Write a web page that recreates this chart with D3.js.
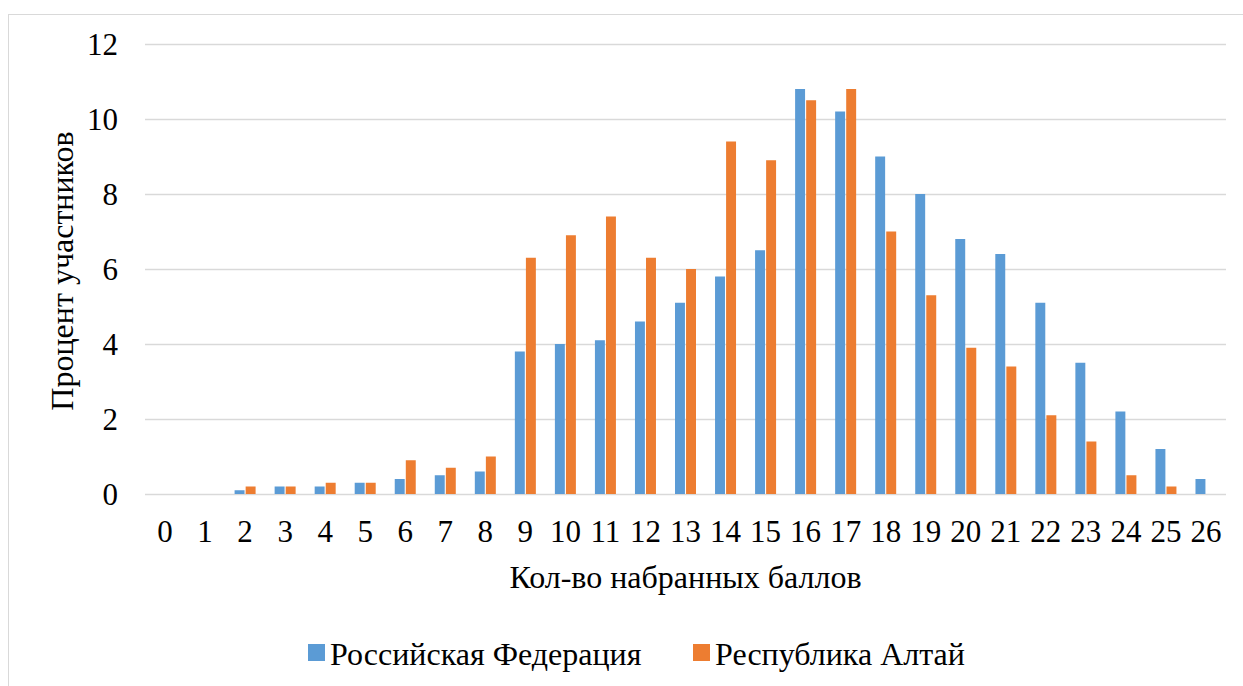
<!DOCTYPE html>
<meta charset="utf-8">
<body style="margin:0;background:#fff">
<svg width="1243" height="686"></svg>
<script src="https://d3js.org/d3.v7.min.js"></script>
<script>

var scores = d3.range(0, 27).map(String);
var russia = [0, 0, 0.1, 0.2, 0.2, 0.3, 0.4, 0.5, 0.6, 3.8, 4.0, 4.1, 4.6, 5.1, 5.8, 6.5, 10.8, 10.2, 9.0, 8.0, 6.8, 6.4, 5.1, 3.5, 2.2, 1.2, 0.4];
var altai = [0, 0, 0.2, 0.2, 0.3, 0.3, 0.9, 0.7, 1.0, 6.3, 6.9, 7.4, 6.3, 6.0, 9.4, 8.9, 10.5, 10.8, 7.0, 5.3, 3.9, 3.4, 2.1, 1.4, 0.5, 0.2, 0];
var seriesNames = ["Российская Федерация", "Республика Алтай"];
var colors = ["#5b9bd5", "#ed7d31"];
var yTicks = [0, 2, 4, 6, 8, 10, 12];

var svg = d3.select("svg");
var font = "Liberation Serif";

// outer chart frame
svg.append("rect")
   .attr("x", 8.5).attr("y", 14.5)
   .attr("width", 1250).attr("height", 700)
   .attr("fill", "none").attr("stroke", "#d9d9d9").attr("stroke-width", 1);

var plotL = 145, plotR = 1226, plotT = 44, plotB = 494;

var x = d3.scaleBand().domain(scores).range([plotL, plotR]);
var sub = d3.scaleBand().domain([0, 1]).range([x.bandwidth() / 2 - 10.5, x.bandwidth() / 2 + 10.5]).paddingInner(0.1);
var y = d3.scaleLinear().domain([0, 12]).range([plotB, plotT]);

// gridlines
svg.append("g").selectAll("line").data(yTicks).join("line")
   .attr("x1", plotL).attr("x2", plotR)
   .attr("y1", d => Math.round(y(d)) + 0.5).attr("y2", d => Math.round(y(d)) + 0.5)
   .attr("stroke", "#d9d9d9").attr("stroke-width", 1.3);

// bars
var data = [russia, altai];
data.forEach(function(vals, s) {
  svg.append("g").selectAll("rect").data(vals).join("rect")
     .attr("x", (d, i) => x(scores[i]) + sub(s))
     .attr("width", sub.bandwidth())
     .attr("y", d => y(d))
     .attr("height", d => y(0) - y(d))
     .attr("fill", colors[s]);
});

// y axis labels
var yAxis = svg.append("g")
   .attr("transform", "translate(118,0)")
   .call(d3.axisLeft(y).tickValues(yTicks).tickSize(0).tickPadding(0));
yAxis.select(".domain").remove();
yAxis.selectAll("text")
   .style("font-family", font).style("font-size", "31px").attr("fill", "#000")
   .attr("dy", "0.34em");

// x axis labels
var xAxis = svg.append("g")
   .attr("transform", "translate(0,542)")
   .call(d3.axisBottom(x).tickSize(0).tickPadding(0));
xAxis.select(".domain").remove();
xAxis.selectAll("text")
   .style("font-family", font).style("font-size", "31px").attr("fill", "#000")
   .attr("dy", null);

// axis titles
svg.append("text")
   .attr("x", (plotL + plotR) / 2).attr("y", 588)
   .attr("text-anchor", "middle")
   .style("font-family", font).style("font-size", "32px")
   .text("Кол-во набранных баллов");

svg.append("text")
   .attr("transform", "translate(73,271) rotate(-90)")
   .attr("text-anchor", "middle")
   .style("font-family", font).style("font-size", "32px")
   .text("Процент участников");

// legend
var legendX = [308, 693];
var legend = svg.append("g").selectAll("g").data(seriesNames).join("g")
   .attr("transform", (d, i) => "translate(" + legendX[i] + ",0)");
legend.append("rect")
   .attr("x", 0).attr("y", 644).attr("width", 17).attr("height", 17)
   .attr("fill", (d, i) => colors[i]);
legend.append("text")
   .attr("x", 22).attr("y", 665)
   .style("font-family", font).style("font-size", "32px")
   .text(d => d);

</script>
</body>
